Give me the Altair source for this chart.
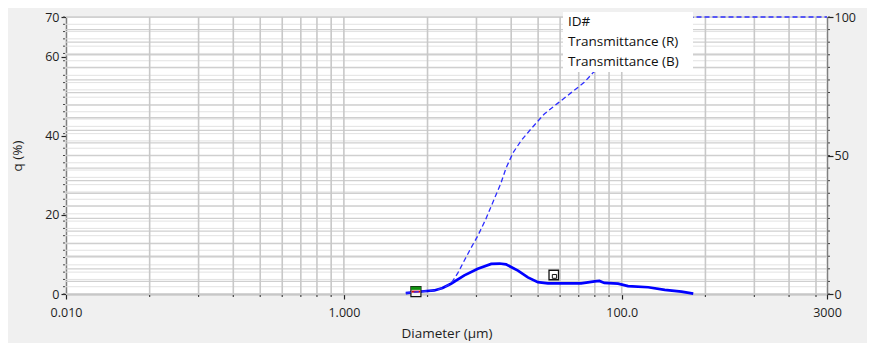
import altair as alt
import pandas as pd
import numpy as np

# ---------------- data ----------------
# frequency curve q (%)  (left axis)
q_diam = [2.79, 3.2, 3.78, 4.47, 5.13, 5.9, 7.36, 9.2, 11.5, 13.2, 14.7, 17.9, 21.1,
          24.9, 29.4, 38.7, 51.0, 63.8, 69.0, 75.0, 94.0, 111.0, 155.0, 204.0, 269.0, 327.0]
q_vals = [0.2, 0.45, 0.7, 0.9, 1.5, 2.6, 4.7, 6.4, 7.6, 7.7, 7.5, 5.9, 4.2,
          3.0, 2.7, 2.7, 2.7, 3.2, 3.3, 2.8, 2.6, 2.0, 1.7, 1.05, 0.6, 0.1]

# cumulative undersize (%)  (right axis)
u_diam = [2.79, 3.2, 3.78, 4.47, 5.13, 5.9, 6.6, 7.36, 8.2, 9.2, 10.5, 11.9, 13.5, 14.7,
          16.5, 18.9, 22.3, 27.7, 34.9, 43.3, 53.7, 62.4, 100.0, 150.0, 220.0, 330.0, 3000.0]
u_vals = [0.3, 0.64, 1.0, 1.3, 2.1, 3.8, 7.5, 12.1, 16.5, 21.0, 27.0, 33.5, 40.0, 45.5,
          51.0, 55.4, 59.7, 65.0, 69.0, 72.7, 76.4, 80.0, 87.0, 92.0, 96.5, 100.0, 100.0]

# markers on the graph
mark_diam = [3.30, 32.4]
mark_q = [0.6, 4.8]

# axes
x_tick_values = [0.01, 1, 100, 3000]
x_tick_labels = ["0.010", "1.000", "100.0", "3000"]
x_minor = [0.04, 0.09, 0.16, 0.25, 0.36, 0.49, 0.64, 0.81,
           4, 9, 16, 25, 36, 49, 64, 81,
           400, 900, 1600, 2500]
left_tick_values = [0, 20, 40, 60, 70]
right_tick_values = [0, 50, 100]
left_minor = [round(v, 3) for v in np.arange(0, 70.01, 70 / 38)]
right_minor_left_units = [round(v, 3) for v in np.arange(0, 70.01, 70 / 22)]

legend_labels = ["ID#", "Transmittance (R)", "Transmittance (B)"]

FONT = "Open Sans"
W, H = 761, 277

xscale = alt.Scale(type="log", domain=[0.01, 3000], nice=False)
yl = alt.Scale(domain=[0, 70], nice=False, zero=True)
yr = alt.Scale(domain=[0, 100], nice=False, zero=True)

label_expr = " : ".join(
    [f"datum.value == {v} ? '{l}'" for v, l in zip(x_tick_values, x_tick_labels)]
) + " : ''"

X_AXIS = alt.Axis(values=x_tick_values, labelExpr=label_expr, grid=False, tickSize=5,
                  labelFlush=False, titlePadding=8, labelPadding=7, orient="bottom",
                  title="Diameter (µm)")
YL_AXIS = alt.Axis(values=left_tick_values, grid=False, tickSize=5, orient="left",
                   titlePadding=20, labelPadding=2, title="q (%)")
YR_AXIS = alt.Axis(values=right_tick_values, grid=False, tickSize=6, orient="right",
                   titlePadding=14, labelPadding=1, title="Undersize (%)")


def X(field):
    return alt.X(field, scale=xscale, axis=X_AXIS, title="Diameter (µm)")


def YL(field):
    return alt.Y(field, scale=yl, axis=YL_AXIS, title="q (%)")


def YR(field):
    return alt.Y(field, scale=yr, axis=YR_AXIS, title="Undersize (%)")


q_df = pd.DataFrame({"d": q_diam, "q": q_vals})
u_df = pd.DataFrame({"d": u_diam, "u": u_vals})
m_df = pd.DataFrame({"d": mark_diam, "q": mark_q})

# --- grid lines ---
hgrid_a = alt.Chart(pd.DataFrame({"q": left_minor})).mark_rule(
    color="#e2e2e2", strokeWidth=1
).encode(y=YL("q:Q"))
hgrid_b = alt.Chart(pd.DataFrame({"q": right_minor_left_units})).mark_rule(
    color="#cfcfcf", strokeWidth=1.3
).encode(y=YL("q:Q"))
vgrid = alt.Chart(pd.DataFrame({"d": x_minor + x_tick_values[1:-1]})).mark_rule(
    color="#c8c8c8", strokeWidth=1.6
).encode(x=X("d:Q"))

# --- minor ticks ---
left_minor_ticks = alt.Chart(pd.DataFrame({"q": left_minor})).mark_rule(
    color="#444", strokeWidth=1
).encode(y=YL("q:Q"), x=alt.value(-3), x2=alt.value(-1))
x_minor_ticks = alt.Chart(pd.DataFrame({"d": x_minor})).mark_rule(
    color="#444", strokeWidth=1.2
).encode(x=X("d:Q"), y=alt.value(H + 1), y2=alt.value(H + 3))
right_minor_ticks = alt.Chart(pd.DataFrame({"q": right_minor_left_units})).mark_rule(
    color="#444", strokeWidth=1
).encode(y=YL("q:Q"), x=alt.value(W + 1), x2=alt.value(W + 3))

# --- solid q line ---
q_line = alt.Chart(q_df).mark_line(color="#0000ff", strokeWidth=2.7).encode(
    x=X("d:Q"), y=YL("q:Q")
)

# --- markers ---
m1 = m_df.iloc[[0]]
m2 = m_df.iloc[[1]]
mk_base = alt.Chart(m1).mark_point(
    shape="square", size=100, filled=True, fill="#f4f4f4", stroke="#111", strokeWidth=1.2, opacity=1
).encode(x=X("d:Q"), y=YL("q:Q"))
mk_green = alt.Chart(m1).mark_point(
    shape="M-1,-1H1V-0.35H-1Z", size=100, filled=True, fill="#109010", strokeWidth=0, opacity=1
).encode(x=X("d:Q"), y=YL("q:Q"))
mk_red = alt.Chart(m1).mark_point(
    shape="M-0.85,-0.2H0.85V0.2H-0.85Z", size=100, filled=True, fill="#e00000", strokeWidth=0, opacity=1
).encode(x=X("d:Q"), y=YL("q:Q"))
mk2_outer = alt.Chart(m2).mark_point(
    shape="square", size=90, filled=True, fill="#ffffff", stroke="#111", strokeWidth=1.3, opacity=1
).encode(x=X("d:Q"), y=YL("q:Q"))
mk2_inner = alt.Chart(m2).mark_point(
    shape="M-0.3,-0.1H0.6V0.7H-0.3Z", size=90, filled=False, stroke="#111", strokeWidth=1, opacity=1
).encode(x=X("d:Q"), y=YL("q:Q"))

left_group = alt.layer(
    hgrid_a, hgrid_b, vgrid, left_minor_ticks, x_minor_ticks, right_minor_ticks,
    q_line, mk_base, mk_green, mk_red, mk2_outer, mk2_inner
)

# --- dashed undersize line (right axis) ---
u_line = alt.Chart(u_df).mark_line(
    color="#2e2eff", strokeWidth=1.3, strokeDash=[5, 3]
).encode(x=X("d:Q"), y=YR("u:Q"))

legend_box = alt.Chart(pd.DataFrame({"k": [0]})).mark_rect(color="white").encode(
    x=alt.value(497), x2=alt.value(627), y=alt.value(-5), y2=alt.value(55)
)
legend_texts = [
    alt.Chart(pd.DataFrame({"t": [lab]})).mark_text(
        align="left", baseline="middle", font=FONT, fontSize=13.5, color="#111"
    ).encode(x=alt.value(502), y=alt.value(5 + 20 * i), text="t:N")
    for i, lab in enumerate(legend_labels)
]

right_group = alt.layer(u_line, legend_box, *legend_texts)

chart = alt.layer(left_group, right_group).resolve_scale(y="independent").properties(
    width=W, height=H,
    autosize=alt.AutoSizeParams(type="none"),
    padding={"left": 58, "top": 9, "right": 40, "bottom": 49},
).configure(
    background="#f0f0f0",
).configure_view(
    fill="white", stroke="#c8c8c8", strokeWidth=1
).configure_axis(
    labelFont=FONT, titleFont=FONT, labelFontSize=12.5, titleFontSize=13.5,
    labelColor="#1e1e1e", titleColor="#1e1e1e", titleFontWeight="normal",
    domainColor="#808080", domainWidth=1.5, tickColor="#222", tickWidth=1.2,
)

chart.save("out.html", embed_options={"renderer": "svg", "actions": False})
